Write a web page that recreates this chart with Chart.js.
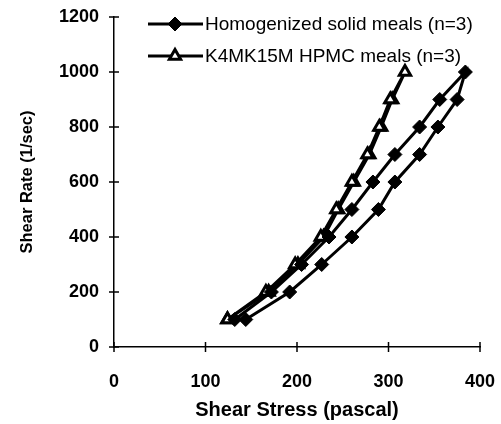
<!DOCTYPE html>
<html>
<head>
<meta charset="utf-8">
<script src="https://cdn.jsdelivr.net/npm/chart.js@4.4.1/dist/chart.umd.min.js"></script>
<style>
  html, body { margin: 0; padding: 0; background: #fff; }
  #wrap { width: 501px; height: 424px; }
</style>
</head>
<body>
<div id="wrap"><canvas id="grafica"></canvas></div>
<script>
// shear rate steps (1/sec), up then down
var rateUp = [100, 200, 300, 400, 500, 600, 700, 800, 900, 1000];
var rateDown = [900, 800, 700, 600, 500, 400, 300, 200, 100];

// shear stress (pascal)
var homogUp = [144, 192, 227, 260, 289, 307, 334, 354, 375, 384];
var homogDown = [356, 334, 307, 283, 260, 235, 205, 172, 132];
var hpmcUp = [124, 169, 201, 229, 245, 262, 279, 292, 304, 318];
var hpmcDown = [302, 290, 277, 260, 243, 226, 198, 166, 124];

var seriesNames = ["Homogenized solid meals (n=3)", "K4MK15M HPMC meals (n=3)"];
var xTicks = [0, 100, 200, 300, 400];
var yTicks = [0, 200, 400, 600, 800, 1000, 1200];

function toPoints(upX, downX) {
  var pts = [];
  upX.forEach((x, i) => pts.push({ x: x, y: rateUp[i] }));
  downX.forEach((x, i) => pts.push({ x: x, y: rateDown[i] }));
  return pts;
}

var tickFont = { family: "'Liberation Sans', Arial, sans-serif", size: 18, weight: "bold" };

// tick marks that cross the axes, and the legend drawn in the plot
var extras = {
  id: "extras",
  afterDraw(chart) {
    const ctx = chart.ctx;
    const xs = chart.scales.x, ys = chart.scales.y;
    const x0 = xs.getPixelForValue(0), y0 = ys.getPixelForValue(0);
    ctx.save();
    ctx.strokeStyle = "#000";
    ctx.lineWidth = 1.5;
    yTicks.forEach((v) => {
      const py = ys.getPixelForValue(v);
      ctx.beginPath();
      ctx.moveTo(x0 - 5, py);
      ctx.lineTo(x0 + 5, py);
      ctx.stroke();
    });
    xTicks.forEach((v) => {
      const px = xs.getPixelForValue(v);
      ctx.beginPath();
      ctx.moveTo(px, y0 - 5);
      ctx.lineTo(px, y0 + 5);
      ctx.stroke();
    });

    // legend
    const rows = [24, 56];
    chart.data.datasets.forEach((ds, i) => {
      const y = rows[i];
      ctx.strokeStyle = "#000";
      ctx.lineWidth = 3;
      ctx.beginPath();
      ctx.moveTo(148, y);
      ctx.lineTo(203, y);
      ctx.stroke();
      ctx.fillStyle = ds.pointBackgroundColor;
      ctx.strokeStyle = "#000";
      ctx.lineWidth = ds.pointBorderWidth;
      Chart.helpers.drawPoint(ctx, {
        pointStyle: ds.pointStyle,
        radius: ds.pointRadius,
        borderWidth: ds.pointBorderWidth,
        rotation: 0
      }, 175, y);
      ctx.fillStyle = "#000";
      ctx.font = "19px 'Liberation Sans', Arial, sans-serif";
      ctx.textBaseline = "middle";
      ctx.fillText(seriesNames[i], 205, y + 1);
    });
    ctx.restore();
  }
};

new Chart(document.getElementById("grafica"), {
  type: "scatter",
  data: {
    datasets: [
      {
        label: seriesNames[0],
        data: toPoints(homogUp, homogDown),
        showLine: true,
        borderColor: "#000",
        borderWidth: 3,
        pointStyle: "rectRot",
        pointRadius: 7,
        pointBackgroundColor: "#000",
        pointBorderColor: "#000",
        pointBorderWidth: 1
      },
      {
        label: seriesNames[1],
        data: toPoints(hpmcUp, hpmcDown),
        showLine: true,
        borderColor: "#000",
        borderWidth: 3,
        pointStyle: "triangle",
        pointRadius: 6.5,
        pointBackgroundColor: "#fff",
        pointBorderColor: "#000",
        pointBorderWidth: 3
      }
    ]
  },
  options: {
    responsive: true,
    maintainAspectRatio: false,
    animation: false,
    layout: { padding: { left: 10, right: 21, top: 17, bottom: 0 } },
    plugins: { legend: { display: false }, tooltip: { enabled: false } },
    scales: {
      x: {
        type: "linear",
        min: 0,
        max: 400,
        afterBuildTicks(s) { s.ticks = xTicks.map((v) => ({ value: v })); },
        afterFit(s) { s.height = 77; s.paddingLeft = 0; s.paddingRight = 0; },
        grid: { display: false },
        border: { display: true, color: "#000", width: 1.5 },
        ticks: { color: "#000", font: tickFont, padding: 16, maxRotation: 0, callback: (v) => String(v) },
        title: {
          display: true,
          text: "Shear Stress (pascal)",
          color: "#000",
          font: { family: "'Liberation Sans', Arial, sans-serif", size: 20, weight: "bold" },
          padding: { top: 0, bottom: 2 }
        }
      },
      y: {
        type: "linear",
        min: 0,
        max: 1200,
        afterBuildTicks(s) { s.ticks = yTicks.map((v) => ({ value: v })); },
        afterFit(s) { s.width = 104; s.paddingTop = 0; s.paddingBottom = 0; },
        grid: { display: false },
        border: { display: true, color: "#000", width: 1.5 },
        ticks: { color: "#000", font: tickFont, padding: 7, callback: (v) => String(v) },
        title: {
          display: true,
          text: "Shear Rate (1/sec)",
          color: "#000",
          font: { family: "'Liberation Sans', Arial, sans-serif", size: 16.5, weight: "bold" },
          padding: { top: 8, bottom: 0 }
        }
      }
    }
  },
  plugins: [extras]
});
</script>
</body>
</html>
